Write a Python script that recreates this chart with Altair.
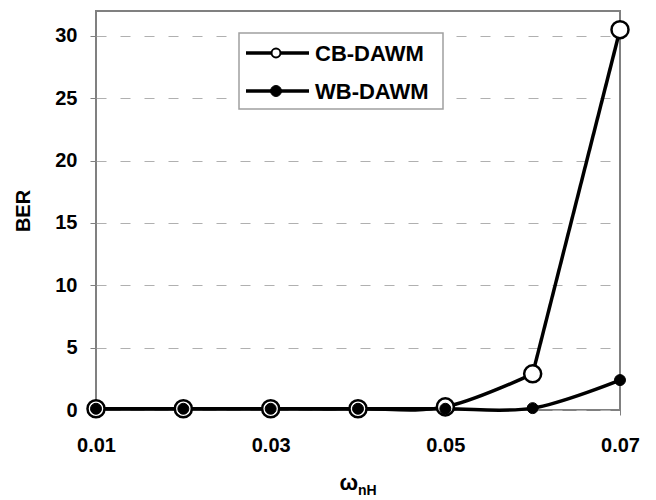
import altair as alt
import pandas as pd

# ---- data ----
omega = [0.01, 0.02, 0.03, 0.04, 0.05, 0.06, 0.07]
cb_dawm = [0.1, 0.1, 0.1, 0.1, 0.25, 2.9, 30.5]
wb_dawm = [0.1, 0.1, 0.1, 0.1, 0.1, 0.15, 2.4]
series_names = ["CB-DAWM", "WB-DAWM"]
x_ticks = [0.01, 0.03, 0.05, 0.07]
y_ticks = [0, 5, 10, 15, 20, 25, 30]

df = pd.DataFrame({
    "omega": omega * 2,
    "BER": cb_dawm + wb_dawm,
    "series": [series_names[0]] * len(omega) + [series_names[1]] * len(omega),
})

W, H = 524, 399
FONT = "Liberation Sans"

x_enc = alt.X("omega:Q",
              scale=alt.Scale(domain=[0.01, 0.07], nice=False, zero=False),
              axis=alt.Axis(values=x_ticks, format=".2f", title=None,
                            grid=False, tickSize=5, tickColor="#808080",
                            domain=False, labelPadding=20, labelFlush=False))
y_enc = alt.Y("BER:Q",
              scale=alt.Scale(domain=[0, 32], nice=False),
              axis=alt.Axis(values=y_ticks, title="BER", grid=True,
                            gridColor="#b0b0b0", gridDash=[10, 14], gridWidth=1.2,
                            tickSize=6, tickColor="#808080", domain=False,
                            labelPadding=13, labelFlush=False,
                            titleX=-73, titleY=H / 2,
                            titleAngle=270, titleAlign="center",
                            titleBaseline="middle", titleFont=FONT,
                            titleFontSize=20, titleFontWeight="bold",
                            titleColor="black"))

base = alt.Chart(df)
is_cb = alt.datum.series == series_names[0]
is_wb = alt.datum.series == series_names[1]

# smoothed lines (Excel-like smoothing approximated piecewise)
wb_line = base.transform_filter(is_wb).mark_line(
    interpolate="cardinal", color="black", strokeWidth=3.5).encode(x=x_enc, y=y_enc)
cb_line_low = base.transform_filter(is_cb).transform_filter(alt.datum.omega < 0.0605).mark_line(
    interpolate="cardinal", color="black", strokeWidth=3.5).encode(x="omega:Q", y="BER:Q")
cb_line_high = base.transform_filter(is_cb).transform_filter(alt.datum.omega > 0.0595).mark_line(
    color="black", strokeWidth=3.5).encode(x="omega:Q", y="BER:Q")

cb_pts = base.transform_filter(is_cb).mark_point(
    shape="circle", filled=True, fill="white", stroke="black", strokeWidth=2.5,
    size=290, opacity=1).encode(x="omega:Q", y="BER:Q")

wb_pts = base.transform_filter(is_wb).mark_point(
    shape="circle", filled=True, fill="black", stroke="black", strokeWidth=1,
    size=120, opacity=1).encode(x="omega:Q", y="BER:Q")

# ---- legend (drawn by hand) ----
one = pd.DataFrame({"label": [""]})
leg_box = alt.Chart(one).mark_rect(fill="white", stroke="#a0a0a0", strokeWidth=1.5).encode(
    x=alt.value(143), x2=alt.value(347), y=alt.value(22), y2=alt.value(98))

legend_layers = [leg_box]
for i, (name, yy) in enumerate(zip(series_names, [42, 80])):
    d = pd.DataFrame({"label": [name]})
    legend_layers.append(alt.Chart(d).mark_rule(color="black", strokeWidth=3.5).encode(
        x=alt.value(150), x2=alt.value(213), y=alt.value(yy)))
    if i == 0:
        legend_layers.append(alt.Chart(d).mark_point(
            shape="circle", filled=True, fill="white", stroke="black",
            strokeWidth=2, size=80, opacity=1).encode(x=alt.value(180), y=alt.value(yy)))
    else:
        legend_layers.append(alt.Chart(d).mark_point(
            shape="circle", filled=True, fill="black", stroke="black",
            strokeWidth=1, size=120, opacity=1).encode(x=alt.value(180), y=alt.value(yy)))
    legend_layers.append(alt.Chart(d).mark_text(
        align="left", baseline="middle", font=FONT, fontSize=22,
        fontWeight="bold", color="black").encode(
        x=alt.value(219), y=alt.value(yy + 1), text="label:N"))

# ---- x title: omega with subscript nH ----
xt1 = alt.Chart(pd.DataFrame({"t": ["ω"]})).mark_text(
    align="right", baseline="alphabetic", font=FONT, fontSize=22,
    fontWeight="bold", color="black").encode(
    x=alt.value(262), y=alt.value(479), text="t:N")
xt2 = alt.Chart(pd.DataFrame({"t": ["nH"]})).mark_text(
    align="left", baseline="alphabetic", font=FONT, fontSize=14,
    fontWeight="bold", color="black").encode(
    x=alt.value(262), y=alt.value(484), text="t:N")

chart = alt.layer(wb_line, cb_line_low, cb_line_high, cb_pts, wb_pts,
                  *legend_layers, xt1, xt2).properties(
    width=W, height=H,
    autosize=alt.AutoSizeParams(type="none"),
    padding={"left": 88, "top": 3, "right": 20, "bottom": 90},
).configure_view(
    stroke="#808080", strokeWidth=2
).configure_axis(
    labelFont=FONT, labelFontSize=20, labelFontWeight="bold", labelColor="black"
)

chart.save("out.html", embed_options={"renderer": "svg", "actions": False})
